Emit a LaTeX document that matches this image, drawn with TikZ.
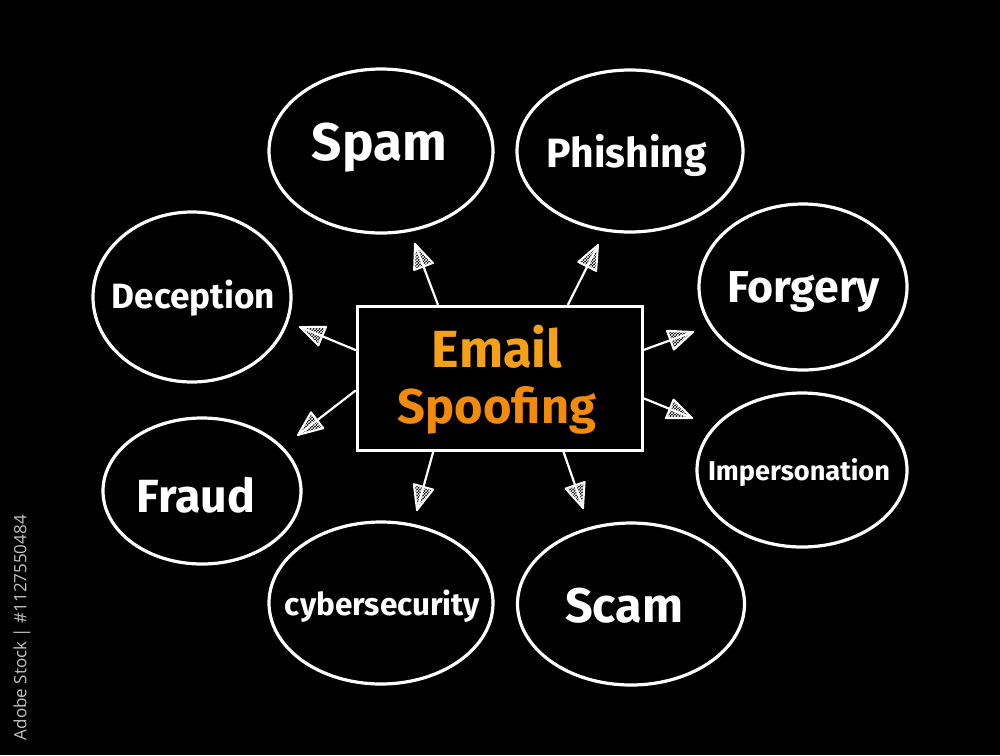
\documentclass[tikz,border=0pt]{standalone}
\usepackage{fontspec}
\setmainfont{Fira Sans}
\newfontfamily\wmfont{Open Sans}
\usetikzlibrary{shapes.geometric,decorations.markings,patterns,calc}
\definecolor{emailor}{RGB}{246,160,24}
\definecolor{spooor}{RGB}{242,138,12}
\definecolor{wmgray}{RGB}{195,195,195}
\tikzset{
  bubble/.style={draw=white, line width=3.2pt, ellipse, inner sep=0pt},
  lbl/.style={text=white, inner sep=0pt, anchor=base},
  spoke/.style={draw=white, line width=2.2pt, line cap=round, postaction={decorate},
    decoration={markings, mark=at position 1 with {
      \draw[white, line width=2pt, line join=round, pattern=crosshatch, pattern color=white]
        (0,0) -- (-24,10) -- (-24,-10) -- cycle;}}},
}
\newcommand{\fitw}[2]{\resizebox{#1pt}{!}{\bfseries #2}}
\begin{document}
\begin{tikzpicture}[x=1pt,y=-1pt]
\fill[black] (0,0) rectangle (1000,755);
% bubbles
\node[bubble, minimum width=224pt, minimum height=164pt] (spam) at (381,151) {};
\node[bubble, minimum width=226pt, minimum height=162pt] (phish) at (630,151) {};
\node[bubble, minimum width=208pt, minimum height=166pt] (forg) at (803,287) {};
\node[bubble, minimum width=210pt, minimum height=154pt] (imp) at (802,470) {};
\node[bubble, minimum width=227pt, minimum height=162pt] (scam) at (631,604) {};
\node[bubble, minimum width=224pt, minimum height=162pt] (cyber) at (381,603) {};
\node[bubble, minimum width=198pt, minimum height=146pt] (fraud) at (202,491) {};
\node[bubble, minimum width=198pt, minimum height=170pt] (decep) at (192,297) {};
% labels
\node[lbl] (lspam) at (379.5,160) {\fitw{135}{Spam}};
\node[lbl] (lphish) at (627,167) {\fitw{160}{Phishing}};
\node[lbl] (lforg) at (803.5,302) {\fitw{153}{Forgery}};
\node[lbl] (limp) at (799,480) {\fitw{182}{Impersonation}};
\node[lbl] (lscam) at (624,622) {\fitw{118}{Scam}};
\node[lbl] (lcyber) at (382.5,615) {\fitw{195}{cybersecurity}};
\node[lbl] (lfraud) at (196,512) {\fitw{118}{Fraud}};
\node[lbl] (ldecep) at (193.5,308) {\fitw{163}{Deception}};
% center
\node[draw=white, line width=3pt, minimum width=285pt, minimum height=144pt] (c) at (499.5,378) {};
\node[lbl, text=emailor] (email) at (497,367) {\fitw{130}{Email}};
\node[lbl, text=spooor] (spoof) at (497,423) {\fitw{198}{Spoofing}};
% arrow tips
\coordinate (t1) at (415,244);
\coordinate (t2) at (598,245);
\coordinate (t3) at (300,327);
\coordinate (t4) at (298,435);
\coordinate (t5) at (693,332);
\coordinate (t6) at (692,418);
\coordinate (t7) at (417,510);
\coordinate (t8) at (583,508);
\draw[spoke] (c.130.7) -- (t1);
\draw[spoke] (c.47.6) -- (t2);
\draw[spoke] (c.169.8) -- (t3);
\draw[spoke] (c.185.9) -- (t4);
\draw[spoke] (c.11.1) -- (t5);
\draw[spoke] (c.-8) -- (t6);
\draw[spoke] (c.228.1) -- (t7);
\draw[spoke] (c.311) -- (t8);
% side label
\node[rotate=90, anchor=east, text=wmgray, inner sep=0pt, font=\wmfont\fontsize{17}{19}\selectfont] (wm) at (22,515) {Adobe Stock | \#1127550484};
\end{tikzpicture}
\end{document}
